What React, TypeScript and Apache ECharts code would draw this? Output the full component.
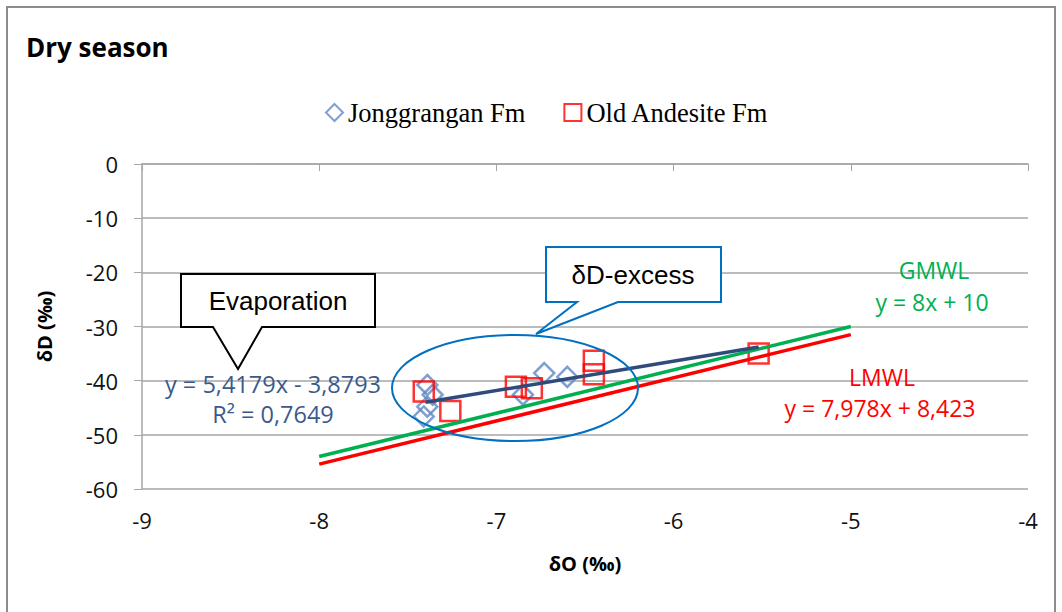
import React, { useEffect, useRef } from "react";
import * as echarts from "echarts";

// Jonggrangan Fm samples [δO, δD]
const jonggranganO = [-7.39, -7.36, -7.39, -7.41, -6.85, -6.73, -6.6];
const jonggranganD = [-40.8, -42.6, -44.8, -46.6, -42.6, -38.6, -39.3];
// Old Andesite Fm samples
const andesiteO = [-7.41, -7.26, -6.89, -6.8, -6.45, -6.45, -5.52];
const andesiteD = [-42.0, -45.6, -41.1, -41.4, -36.3, -38.8, -35.0];
// Reference lines (end points)
const gmwlO = [-8, -5];
const gmwlD = [-54, -30];
const lmwlO = [-8, -5];
const lmwlD = [-55.4, -31.5];
const trendO = [-7.4, -5.52];
const trendD = [-44.0, -33.8];

const xTicks = { min: -9, max: -4, interval: 1 };
const yTicks = { min: -60, max: 0, interval: 10 };

const zip = (a: number[], b: number[]) => a.map((v, i) => [v, b[i]]);

const FONT = "'Open Sans', 'Noto Sans', sans-serif";

export default function App() {
  const ref = useRef<HTMLDivElement>(null);
  useEffect(() => {
    document.body.style.margin = "0";
    const chart = echarts.init(ref.current!, null, { renderer: "svg" });
    chart.setOption({
      animation: false,
      backgroundColor: "#fff",
      title: {
        text: "Dry season",
        left: 21,
        top: 29,
        textStyle: { fontFamily: FONT, fontWeight: "bold", fontSize: 26, color: "#000" },
      },
      legend: {
        data: ["Jonggrangan Fm", "Old Andesite Fm"],
        left: 320,
        top: 94,
        itemGap: 38,
        itemWidth: 17,
        itemHeight: 17,
        itemStyle: { borderWidth: 2 },
        textStyle: { fontFamily: "'Liberation Serif', serif", fontSize: 26.5, color: "#000" },
      },
      grid: { left: 142, right: 34, top: 164, bottom: 123 },
      xAxis: {
        type: "value",
        min: xTicks.min,
        max: xTicks.max,
        interval: xTicks.interval,
        name: "δO (‰)",
        nameLocation: "middle",
        nameGap: 64,
        nameTextStyle: { fontFamily: FONT, fontWeight: "bold", fontSize: 20, color: "#000" },
        axisLine: { lineStyle: { color: "#a6a6a6", width: 1.5 } },
        axisTick: { show: true, length: 7, lineStyle: { color: "#a6a6a6" } },
        axisLabel: { margin: 20, fontFamily: FONT, fontSize: 22, color: "#111" },
        splitLine: { show: false },
      },
      yAxis: {
        type: "value",
        min: yTicks.min,
        max: yTicks.max,
        interval: yTicks.interval,
        name: "δD (‰)",
        nameLocation: "middle",
        nameGap: 88,
        nameTextStyle: { fontFamily: FONT, fontWeight: "bold", fontSize: 20, color: "#000" },
        axisLine: { show: true, lineStyle: { color: "#a6a6a6", width: 1.5 } },
        axisTick: { show: true, length: 8, lineStyle: { color: "#a6a6a6" } },
        axisLabel: { margin: 24, fontFamily: FONT, fontSize: 22, color: "#111" },
        splitLine: { show: true, lineStyle: { color: "#a6a6a6", width: 1.5 } },
      },
      series: [
        {
          name: "Jonggrangan Fm",
          type: "scatter",
          symbol: "diamond",
          symbolSize: 20,
          data: zip(jonggranganO, jonggranganD),
          itemStyle: { color: "rgba(255,255,255,0)", borderColor: "#5f87c4", borderWidth: 2.5 },
          z: 2,
        },
        {
          name: "Old Andesite Fm",
          type: "scatter",
          symbol: "rect",
          symbolSize: 20,
          data: zip(andesiteO, andesiteD),
          itemStyle: { color: "rgba(255,255,255,0)", borderColor: "#ff0000", borderWidth: 2.5 },
          z: 3,
        },
        {
          name: "GMWL",
          type: "line",
          showSymbol: false,
          data: zip(gmwlO, gmwlD),
          lineStyle: { color: "#00b050", width: 3.5 },
          z: 4,
        },
        {
          name: "LMWL",
          type: "line",
          showSymbol: false,
          data: zip(lmwlO, lmwlD),
          lineStyle: { color: "#ff0000", width: 3.5 },
          z: 4,
        },
        {
          name: "Trend",
          type: "line",
          showSymbol: false,
          data: zip(trendO, trendD),
          lineStyle: { color: "#2f4b7c", width: 3.5 },
          z: 5,
        },
      ],
      graphic: [
        {
          type: "rect",
          shape: { x: 7, y: 7, width: 1048, height: 620 },
          style: { fill: "none", stroke: "#8c8c8c", lineWidth: 2 },
          silent: true,
        },
        {
          type: "ellipse",
          shape: { cx: 515, cy: 388, rx: 123, ry: 53 },
          style: { fill: "none", stroke: "#0070c0", lineWidth: 2 },
          z: 10,
        },
        {
          type: "polygon",
          shape: {
            points: [
              [181, 274], [375, 274], [375, 327], [262, 327], [238, 369], [213, 327], [181, 327],
            ],
          },
          style: { fill: "#fff", stroke: "#000", lineWidth: 2 },
          z: 10,
        },
        {
          type: "text",
          x: 278,
          y: 301,
          style: {
            text: "Evaporation",
            fontFamily: "'Liberation Sans', Arial, sans-serif",
            fontSize: 26,
            fill: "#000",
            align: "center",
            verticalAlign: "middle",
          },
          z: 11,
        },
        {
          type: "polygon",
          shape: {
            points: [
              [546, 247], [721, 247], [721, 302], [618, 302], [536, 334], [577, 302], [546, 302],
            ],
          },
          style: { fill: "#fff", stroke: "#0070c0", lineWidth: 2 },
          z: 10,
        },
        {
          type: "text",
          x: 633,
          y: 275,
          style: {
            text: "δD-excess",
            fontFamily: "'Liberation Sans', Arial, sans-serif",
            fontSize: 26,
            fill: "#000",
            align: "center",
            verticalAlign: "middle",
          },
          z: 11,
        },
        {
          type: "text",
          x: 273,
          y: 384,
          style: {
            text: "y = 5,4179x - 3,8793",
            fontFamily: FONT,
            fontSize: 23.5,
            fill: "#3b5a8c",
            align: "center",
            verticalAlign: "middle",
          },
          z: 11,
        },
        {
          type: "text",
          x: 273,
          y: 414,
          style: {
            text: "R² = 0,7649",
            fontFamily: FONT,
            fontSize: 23.5,
            fill: "#3b5a8c",
            align: "center",
            verticalAlign: "middle",
          },
          z: 11,
        },
        {
          type: "text",
          x: 934,
          y: 270,
          style: { text: "GMWL", fontFamily: FONT, fontSize: 23, fill: "#00b050", align: "center", verticalAlign: "middle" },
          z: 11,
        },
        {
          type: "text",
          x: 932,
          y: 302,
          style: { text: "y = 8x + 10", fontFamily: FONT, fontSize: 23, fill: "#00b050", align: "center", verticalAlign: "middle" },
          z: 11,
        },
        {
          type: "text",
          x: 882,
          y: 377,
          style: { text: "LMWL", fontFamily: FONT, fontSize: 23, fill: "#ff0000", align: "center", verticalAlign: "middle" },
          z: 11,
        },
        {
          type: "text",
          x: 880,
          y: 408,
          style: { text: "y = 7,978x + 8,423", fontFamily: FONT, fontSize: 23, fill: "#ff0000", align: "center", verticalAlign: "middle" },
          z: 11,
        },
      ],
    });
    return () => chart.dispose();
  }, []);
  return <div ref={ref} style={{ width: 1062, height: 612 }} />;
}
